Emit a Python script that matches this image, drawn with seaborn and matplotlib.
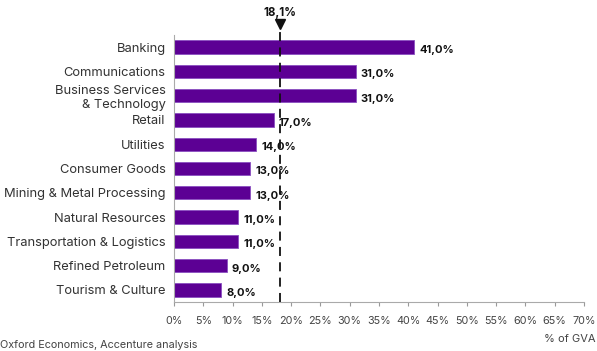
import matplotlib
matplotlib.use("Agg")
import matplotlib.pyplot as plt
import seaborn as sns
import pandas as pd

sectors = [
    "Banking",
    "Communications",
    "Business Services\n& Technology",
    "Retail",
    "Utilities",
    "Consumer Goods",
    "Mining & Metal Processing",
    "Natural Resources",
    "Transportation & Logistics",
    "Refined Petroleum",
    "Tourism & Culture",
]
share_of_gva = [41.0, 31.0, 31.0, 17.0, 14.0, 13.0, 13.0, 11.0, 11.0, 9.0, 8.0]
average_share = 18.1
x_ticks = list(range(0, 75, 5))

sns.set_theme(style="white")
plt.rcParams["font.family"] = ["Inter", "DejaVu Sans"]

df = pd.DataFrame({"sector": sectors, "share": share_of_gva})

fig = plt.figure(figsize=(5.97, 3.51), dpi=100)
ax = fig.add_axes([174 / 597, 1 - 302 / 351, 410 / 597, 267 / 351])

bar_color = "#5c0094"
sns.barplot(data=df, x="share", y="sector", orient="h", color=bar_color,
            width=0.55, edgecolor="#8a4fc0", linewidth=0.6, saturation=1,
            ax=ax)

ax.set_xlim(0, 70)
ax.set_ylim(10.5, -0.5)
ax.set_xticks(x_ticks)
ax.set_xticklabels([f"{t}%" for t in x_ticks], fontsize=7.8, color="#444444")
ax.tick_params(axis="x", which="both", bottom=True, length=3, width=0.8,
               color="#999999", pad=7)
ax.tick_params(axis="y", length=0, pad=6, labelsize=9.3, labelcolor="#333333")
for lbl in ax.get_yticklabels():
    lbl.set_linespacing(1.25)
ax.set_xlabel("")
ax.set_ylabel("")

for side in ["top", "right"]:
    ax.spines[side].set_visible(False)
for side in ["left", "bottom"]:
    ax.spines[side].set_color("#aaaaaa")
    ax.spines[side].set_linewidth(0.8)

# value labels at the end of each bar
for i, v in enumerate(share_of_gva):
    ax.text(v + 0.9, i + 0.12, f"{v:.1f}%".replace(".", ","), va="center",
            ha="left", fontsize=8, fontweight="bold", color="#111111")

# cross-sector average marker
ax.plot([average_share, average_share], [10.5, -0.72], color="#111111",
        linestyle=(0, (5, 3.5)), linewidth=1.3, clip_on=False, zorder=5)
ax.plot([average_share], [-0.95], marker="v", color="#111111",
        markersize=6.5, clip_on=False, zorder=6)
ax.text(average_share, -1.4, f"{average_share:.1f}%".replace(".", ","),
        ha="center", va="center", fontsize=8.3, fontweight="bold",
        color="#111111", clip_on=False)

fig.text(0.998, 1 - 339 / 351, "% of GVA", ha="right", va="center",
         fontsize=8, color="#444444")
fig.text(0.0, 0.003, "Oxford Economics, Accenture analysis",
         ha="left", va="bottom", fontsize=7.8, color="#444444")

fig.savefig("out.png", dpi=100)
